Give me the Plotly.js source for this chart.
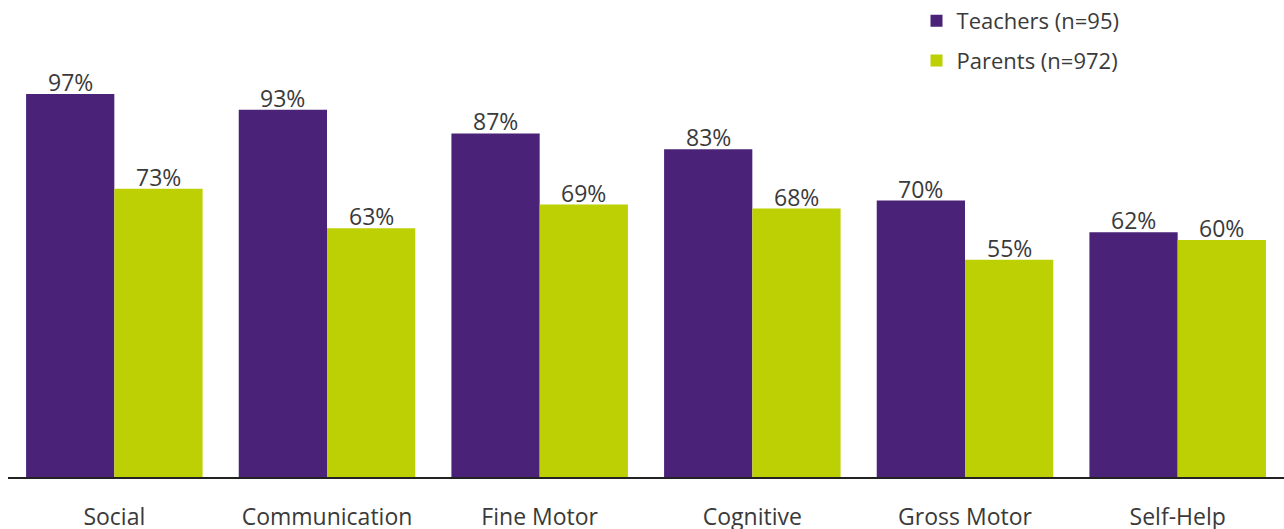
<!DOCTYPE html>
<html>
<head>
<meta charset="utf-8">
<script src="https://cdn.plot.ly/plotly-3.0.1.min.js"></script>
<style>html,body{margin:0;padding:0;background:#fff;}#chart{width:1284px;height:529px;}</style>
</head>
<body>
<div id="chart"></div>
<script>
const categories = ["Social", "Communication", "Fine Motor", "Cognitive", "Gross Motor", "Self-Help"];
const teachers = [97, 93, 87, 83, 70, 62];
const parents = [73, 63, 69, 68, 55, 60];
const seriesNames = ["Teachers (n=95)", "Parents (n=972)"];

const fontFam = "'Open Sans', 'DejaVu Sans', sans-serif";
const txtColor = "#3a3a3a";
const colors = ["#4a2378", "#bcd003"];

function mk(name, vals, color, grp) {
  return {
    type: "bar",
    name: name,
    legendgroup: grp,
    x: categories,
    y: vals,
    marker: {color: color},
    cliponaxis: false,
    hoverinfo: "skip"
  };
}

const data = [
  mk(seriesNames[0], teachers, colors[0], "t"),
  mk(seriesNames[1], parents, colors[1], "p")
];

// value labels above bars
const plotW = 1284 - 8;
const bargap = 0.17;
const barPx = plotW / categories.length * (1 - bargap) / 2;
const annotations = [];
[teachers, parents].forEach((vals, s) => {
  vals.forEach((v, i) => {
    annotations.push({
      x: categories[i], y: v, xref: "x", yref: "y",
      text: v + "%", showarrow: false,
      xanchor: "center", yanchor: "bottom",
      xshift: (s === 0 ? -1 : 1) * barPx / 2,
      yshift: -6,
      font: {family: fontFam, size: 23, color: txtColor}
    });
  });
});

const layout = {
  width: 1284, height: 529,
  margin: {l: 8, r: 0, t: 0, b: 52},
  paper_bgcolor: "#fff", plot_bgcolor: "#fff",
  barmode: "group",
  bargap: bargap,
  bargroupgap: 0,
  showlegend: true,
  annotations: annotations,
  legend: {
    x: 0.712, xanchor: "left", y: 1.005, yanchor: "top",
    font: {family: fontFam, size: 22, color: txtColor},
    tracegroupgap: 8,
    traceorder: "grouped",
    bgcolor: "rgba(0,0,0,0)"
  },
  xaxis: {
    type: "category",
    range: [-0.5, 5.5],
    showgrid: false, zeroline: false,
    showline: true, linecolor: "#222", linewidth: 2,
    ticks: "", ticklabelstandoff: 18,
    tickfont: {family: fontFam, size: 23, color: txtColor}
  },
  yaxis: {
    range: [0, 120.3],
    visible: false, showgrid: false, zeroline: false
  }
};

Plotly.newPlot("chart", data, layout, {displayModeBar: false, staticPlot: true});
</script>
</body>
</html>
